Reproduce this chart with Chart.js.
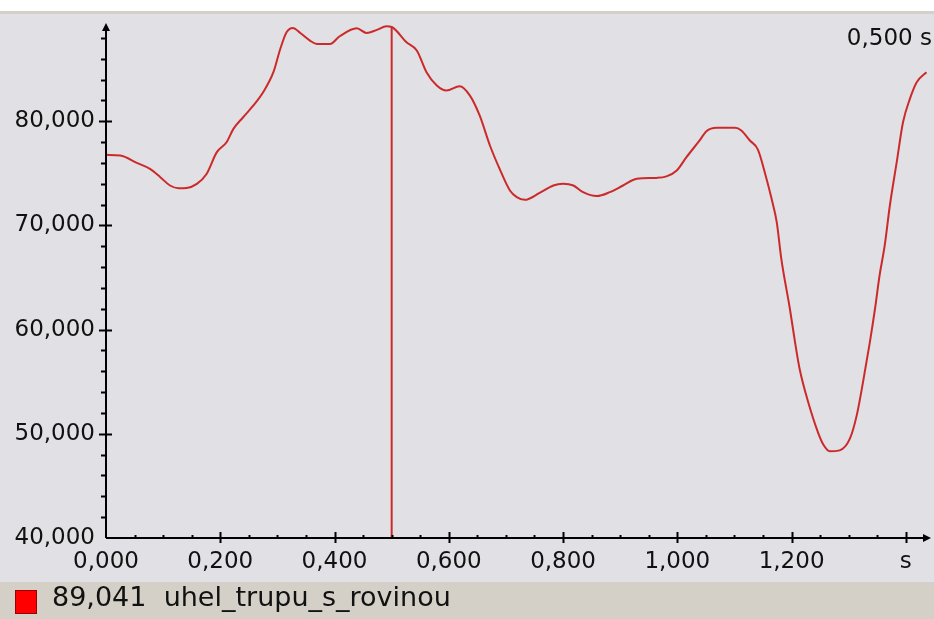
<!DOCTYPE html>
<html>
<head>
<meta charset="utf-8">
<script src="https://cdn.jsdelivr.net/npm/chart.js@4.4.1/dist/chart.umd.min.js"></script>
<style>
  html, body { margin: 0; padding: 0; background: #fff; }
  body { width: 934px; height: 619px; position: relative; overflow: hidden; font-family: "DejaVu Sans", sans-serif; }
  #topband { position: absolute; left: 0; top: 11px; width: 934px; height: 3px; background: #d4d0c8; }
  #plot { position: absolute; left: 0; top: 14px; width: 934px; height: 568px; background: #e0e0e5; }
  #legend { position: absolute; left: 0; top: 582px; width: 934px; height: 37px; background: #d4d0c8; }
  #legend .swatch { position: absolute; left: 15px; top: 8px; width: 20px; height: 22px; background: #f00; border: 1px solid #900; }
  #legend .txt { position: absolute; left: 52px; top: -1px; font-size: 27px; color: #111; white-space: pre; }
</style>
</head>
<body>
<div id="topband"></div>
<div id="plot"><canvas id="chart"></canvas></div>
<div id="legend"><div class="swatch"></div><div class="txt" id="legendText"></div></div>
<script>
// cas [s] a uhel [deg]
const times = [0, 0.025, 0.054, 0.077, 0.095, 0.112, 0.127, 0.141, 0.159, 0.176,
    0.194, 0.211, 0.223, 0.240, 0.258, 0.275, 0.293, 0.305, 0.316, 0.327,
    0.340, 0.357, 0.369, 0.392, 0.409, 0.439, 0.456, 0.474, 0.491, 0.500,
    0.526, 0.544, 0.561, 0.579, 0.596, 0.619, 0.637, 0.654, 0.672, 0.689,
    0.707, 0.719, 0.733, 0.759, 0.783, 0.800, 0.818, 0.835, 0.859, 0.882,
    0.905, 0.929, 0.964, 0.981, 0.999, 1.016, 1.039, 1.051, 1.069, 1.101,
    1.112, 1.127, 1.141, 1.153, 1.165, 1.174, 1.182, 1.197, 1.206, 1.214,
    1.229, 1.246, 1.256, 1.267, 1.284, 1.302, 1.314, 1.325, 1.337, 1.346,
    1.354, 1.363, 1.372, 1.384, 1.395, 1.407, 1.419, 1.436];
const angles = [76.77, 76.71, 76.00, 75.42, 74.63, 73.83, 73.57, 73.60, 73.99, 74.94,
    77.03, 77.98, 79.26, 80.38, 81.51, 82.78, 84.70, 86.93, 88.54, 88.95,
    88.47, 87.74, 87.41, 87.41, 88.15, 88.92, 88.47, 88.76, 89.11, 89.04,
    87.58, 86.78, 84.70, 83.42, 82.94, 83.36, 82.46, 80.55, 77.67, 75.42,
    73.35, 72.71, 72.45, 73.12, 73.83, 73.99, 73.83, 73.19, 72.81, 73.19,
    73.83, 74.47, 74.56, 74.70, 75.27, 76.55, 78.15, 79.04, 79.36, 79.36,
    79.11, 78.15, 77.28, 75.11, 72.55, 70.31, 66.79, 62.00, 58.80, 56.24,
    53.05, 50.17, 48.92, 48.32, 48.41, 49.53, 51.77, 54.96, 58.80, 62.00,
    65.20, 68.08, 71.91, 76.07, 79.90, 82.14, 83.74, 84.70];

const seriesName = "uhel_trupu_s_rovinou";
const cursorTime = 0.5;
const cursorValue = 89.041;

const xTicks = [0, 0.2, 0.4, 0.6, 0.8, 1.0, 1.2, 1.4];
const xTickLabels = ["0,000", "0,200", "0,400", "0,600", "0,800", "1,000", "1,200", "s"];
const yTicks = [40, 50, 60, 70, 80];
const yTickLabels = ["40,000", "50,000", "60,000", "70,000", "80,000"];

const FONT = "DejaVu Sans";
const RED = "#cc2a2a";

const fmt = (v) => v.toFixed(3).replace(".", ",");
document.getElementById("legendText").textContent = fmt(cursorValue) + "  " + seriesName;

// osy se sipkami a drobnymi carkami
const axesPlugin = {
    id: "axes",
    afterDraw(chart) {
        const { ctx, chartArea: a, scales: { x, y } } = chart;
        const x0 = x.getPixelForValue(0);
        const y0 = y.getPixelForValue(40);
        ctx.save();
        ctx.strokeStyle = "#000";
        ctx.fillStyle = "#000";
        ctx.lineWidth = 2;

        ctx.beginPath();
        ctx.moveTo(x0, y0);
        ctx.lineTo(x0, a.top + 10);
        ctx.moveTo(x0, y0);
        ctx.lineTo(a.right - 4, y0);
        ctx.stroke();

        // sipky
        ctx.beginPath();
        ctx.moveTo(x0, a.top + 6);
        ctx.lineTo(x0 - 4, a.top + 14);
        ctx.lineTo(x0 + 4, a.top + 14);
        ctx.closePath();
        ctx.fill();
        ctx.beginPath();
        ctx.moveTo(a.right, y0);
        ctx.lineTo(a.right - 8, y0 - 4);
        ctx.lineTo(a.right - 8, y0 + 4);
        ctx.closePath();
        ctx.fill();

        // y carky
        for (let v = 42; v <= 88; v += 2) {
            const py = Math.round(y.getPixelForValue(v)) + 0.5;
            ctx.beginPath();
            if (v % 10 === 0) {
                ctx.moveTo(x0 - 7, py);
                ctx.lineTo(x0 + 6, py);
            } else {
                ctx.moveTo(x0 - 5, py);
                ctx.lineTo(x0, py);
            }
            ctx.stroke();
        }
        // x carky
        for (let i = 1; i <= 28; i++) {
            const v = i * 0.05;
            const px = Math.round(x.getPixelForValue(v)) + 0.5;
            ctx.beginPath();
            if (i % 4 === 0) {
                ctx.moveTo(px, y0 - 6);
                ctx.lineTo(px, y0 + 5);
            } else {
                ctx.moveTo(px, y0 - 3);
                ctx.lineTo(px, y0 + 1);
            }
            ctx.stroke();
        }

        ctx.font = "23px '" + FONT + "'";
        ctx.textAlign = "right";
        ctx.textBaseline = "middle";
        ctx.fillStyle = "#111";
        ctx.fillText(fmt(cursorTime) + " s", 932, 25);
        ctx.restore();
    },
};

new Chart(document.getElementById("chart"), {
    type: "line",
    data: {
        datasets: [
            {
                label: seriesName,
                data: times.map((t, i) => ({ x: t, y: angles[i] })),
                borderColor: RED,
                borderWidth: 2,
                pointRadius: 0,
                cubicInterpolationMode: "monotone",
            },
            {
                label: "cursor",
                data: [{ x: cursorTime, y: 40 }, { x: cursorTime, y: cursorValue }],
                borderColor: RED,
                borderWidth: 2,
                pointRadius: 0,
            },
        ],
    },
    options: {
        responsive: true,
        maintainAspectRatio: false,
        animation: false,
        layout: { padding: { top: 3, right: 3, left: 0, bottom: 0 } },
        plugins: { legend: { display: false }, tooltip: { enabled: false } },
        scales: {
            x: {
                type: "linear",
                min: 0,
                max: 1.444,
                grid: { display: false, drawTicks: false },
                border: { display: false },
                afterBuildTicks: (s) => { s.ticks = xTicks.map((v) => ({ value: v })); },
                afterFit: (s) => { s.height = 44; s.paddingLeft = 0; s.paddingRight = 0; },
                ticks: {
                    callback: (v, i) => xTickLabels[i],
                    color: "#111",
                    font: { family: FONT, size: 23 },
                    padding: 10,
                    maxRotation: 0,
                    autoSkip: false,
                },
            },
            y: {
                min: 40,
                max: 90,
                grid: { display: false, drawTicks: false },
                border: { display: false },
                afterBuildTicks: (s) => { s.ticks = yTicks.map((v) => ({ value: v })); },
                afterFit: (s) => { s.width = 106; s.paddingTop = 0; s.paddingBottom = 0; },
                ticks: {
                    callback: (v, i) => yTickLabels[i],
                    color: "#111",
                    font: { family: FONT, size: 23 },
                    padding: 11,
                },
            },
        },
    },
    plugins: [axesPlugin],
});
</script>
</body>
</html>
